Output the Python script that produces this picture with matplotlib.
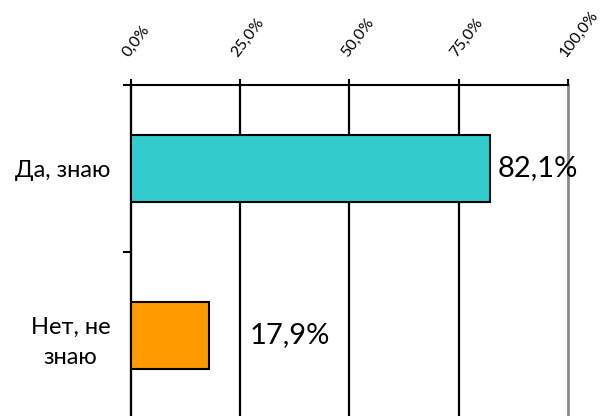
#!/usr/bin/env python3

import matplotlib.pyplot as plt
import matplotlib.transforms as mtransforms
from matplotlib.ticker import FixedLocator

plt.rcParams['font.family'] = ['Lato', 'Open Sans', 'DejaVu Sans']

categories = ['Да, знаю', 'Нет, не\nзнаю']
values = [82.1, 17.9]
value_labels = ['82,1%', '17,9%']
colors = ['#33CCCC', '#FF9900']
label_x = [84.0, 27.2]
xticks = [0, 25, 50, 75, 100]
xtick_labels = ['0,0%', '25,0%', '50,0%', '75,0%', '100,0%']

fig = plt.figure(figsize=(6.02, 4.16), dpi=100)
ax = fig.add_axes([0.2176, -0.0072, 0.7259, 0.8029])

ypos = list(range(len(categories)))
ax.barh(ypos, values, height=0.4, color=colors, edgecolor='black',
        linewidth=1.5, zorder=3)

for y, x, s in zip(ypos, label_x, value_labels):
    ax.text(x, y, s, ha='left', va='center', fontsize=21)

ax.set_xlim(0, 100)
ax.set_ylim(1.5, -0.5)

# grid lines, last one grey
for x in xticks:
    if x == 100:
        ax.axvline(x, color='#8c8c8c', lw=2.0, zorder=1, clip_on=False)
    else:
        ax.axvline(x, color='black', lw=1.6, zorder=1, clip_on=False)

ax.xaxis.tick_top()
ax.set_xticks(xticks)
ax.set_xticklabels(xtick_labels, fontsize=11.5, rotation=53, ha='left',
                   va='bottom', rotation_mode='anchor')
shift = mtransforms.ScaledTranslation(8 / 72, 0, fig.dpi_scale_trans)
for lab in ax.get_xticklabels():
    lab.set_transform(lab.get_transform() + shift)
ax.tick_params(axis='x', direction='out', length=4, width=1.5, pad=14)

ax.set_yticks(ypos)
ax.set_yticklabels(categories, fontsize=17, linespacing=1.55)
for lab in ax.get_yticklabels():
    lab.set_multialignment('center')
ax.tick_params(axis='y', which='major', length=0, pad=15)
ax.yaxis.set_minor_locator(FixedLocator([-0.5, 0.5, 1.5]))
ax.tick_params(axis='y', which='minor', direction='out', length=6, width=1.5)

for side in ['right', 'bottom']:
    ax.spines[side].set_visible(False)
ax.spines['top'].set_linewidth(1.5)
ax.spines['left'].set_linewidth(1.5)

fig.savefig('out.png', dpi=100)
